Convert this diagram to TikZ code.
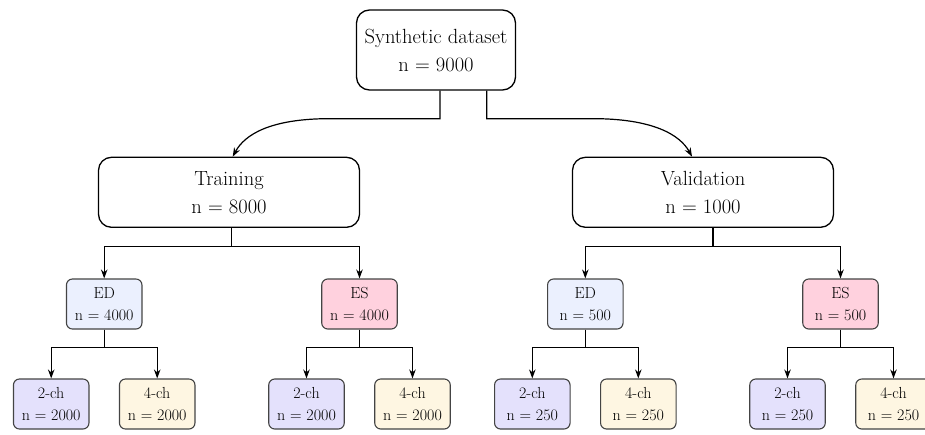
\documentclass[tikz,border=0pt]{standalone}
\usetikzlibrary{arrows.meta,calc}
\definecolor{edfill}{HTML}{EBF0FE}
\definecolor{esfill}{HTML}{FFD1DE}
\definecolor{twofill}{HTML}{E4E1FC}
\definecolor{fourfill}{HTML}{FEF6E2}
\definecolor{smallborder}{HTML}{444444}
\begin{document}
\begin{tikzpicture}[x=1pt,y=-1pt,
  bigbox/.style={draw=black,line width=1.3pt,rounded corners=13pt,align=center,
    font=\fontsize{20.5}{28}\selectfont,inner sep=0pt},
  smallbox/.style={draw=smallborder,line width=1.1pt,rounded corners=6pt,align=center,
    font=\fontsize{16}{22}\selectfont,inner sep=0pt,minimum width=75.5pt,minimum height=50pt},
  conn/.style={line width=1.2pt,draw=black},
  arr/.style={conn,-{Stealth[length=9pt,width=6.5pt]}}]
\useasboundingbox (0,0) rectangle (925,434);
% top
\node[bigbox,minimum width=159pt,minimum height=80pt] (top) at (436,50) {Synthetic dataset\\n = 9000};
\node[bigbox,minimum width=261pt,minimum height=70pt] (train) at (229,192.3) {Training\\n = 8000};
\node[bigbox,minimum width=261pt,minimum height=70pt] (val) at (703,192.3) {Validation\\n = 1000};
% middle level
\node[smallbox,fill=edfill] (ed1) at (104.2,304) {ED\\n = 4000};
\node[smallbox,fill=esfill] (es1) at (359.5,304) {ES\\n = 4000};
\node[smallbox,fill=edfill] (ed2) at (585.3,304) {ED\\n = 500};
\node[smallbox,fill=esfill] (es2) at (840.5,304) {ES\\n = 500};
% bottom level
\node[smallbox,fill=twofill] (a1) at (51.2,404) {2-ch\\n = 2000};
\node[smallbox,fill=fourfill] (b1) at (157.2,404) {4-ch\\n = 2000};
\node[smallbox,fill=twofill] (a2) at (306.5,404) {2-ch\\n = 2000};
\node[smallbox,fill=fourfill] (b2) at (412.5,404) {4-ch\\n = 2000};
\node[smallbox,fill=twofill] (a3) at (532.3,404) {2-ch\\n = 250};
\node[smallbox,fill=fourfill] (b3) at (638.3,404) {4-ch\\n = 250};
\node[smallbox,fill=twofill] (a4) at (787.5,404) {2-ch\\n = 250};
\node[smallbox,fill=fourfill] (b4) at (893.5,404) {4-ch\\n = 250};
% top to training / validation
\draw[arr] ([xshift=4pt]top.south) -- ++(0,28) -- ++(-110,0)
  .. controls ++(-60,0) and ++(12,-22) .. ([xshift=3.7pt]train.north);
\draw[arr] ([xshift=50.7pt]top.south) -- ++(0,28) -- ++(106,0)
  .. controls ++(60,0) and ++(-12,-22) .. ([xshift=-11pt]val.north);
% training / validation to ED/ES
\coordinate (m1) at ($(ed1.north)!0.5!(es1.north)$);
\coordinate (m2) at ($(ed2.north)!0.5!(es2.north)$);
\foreach \p/\m/\c in {train/m1/ed1,train/m1/es1,val/m2/ed2,val/m2/es2}{
  \draw[arr] (\p.south -| \m) -- (\m |- 0,246.5) -| (\c.north);
}
% ED/ES to 2-ch/4-ch
\foreach \p/\c in {ed1/a1,ed1/b1,es1/a2,es1/b2,ed2/a3,ed2/b3,es2/a4,es2/b4}{
  \draw[arr] (\p.south) -- (\p.south |- 0,347.5) -| (\c.north);
}
\end{tikzpicture}
\end{document}
